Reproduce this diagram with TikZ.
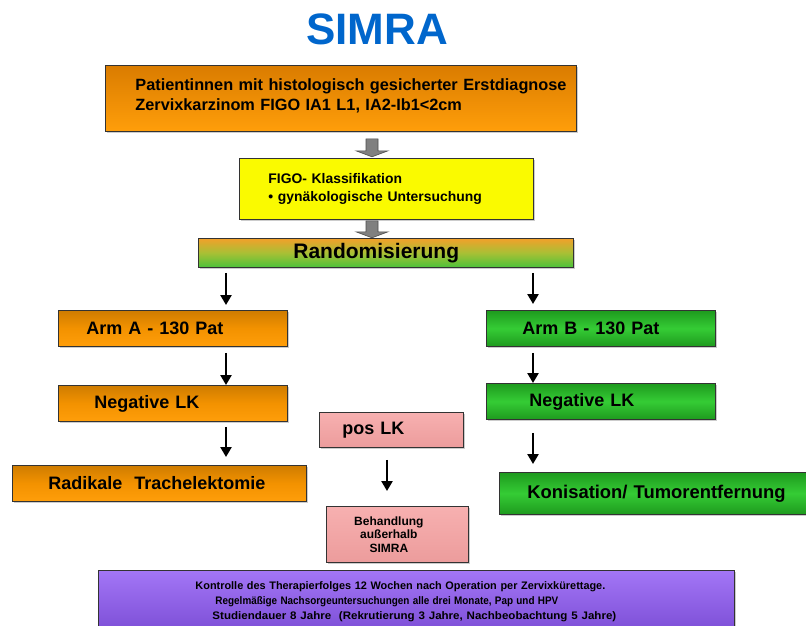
\documentclass[tikz,border=0pt]{standalone}
\usepackage{fontspec}
\usepackage{graphicx}
\setmainfont{Liberation Sans}
\usetikzlibrary{shadows,arrows.meta,calc}
\definecolor{titleblue}{HTML}{0066CC}
\definecolor{orD}{HTML}{DA7C00}
\definecolor{orL}{HTML}{FF9E0A}
\definecolor{orM}{HTML}{F39200}
\definecolor{grD}{HTML}{1E9A1E}
\definecolor{grL}{HTML}{35CC35}
\definecolor{yel}{HTML}{FAFA00}
\definecolor{pkT}{HTML}{F7B0B0}
\definecolor{pkB}{HTML}{EC9C9C}
\definecolor{puT}{HTML}{A376F6}
\definecolor{puB}{HTML}{7C4ED6}
\definecolor{rnT}{HTML}{F2A02A}
\definecolor{rnM}{HTML}{A8C035}
\definecolor{rnB}{HTML}{4CC23A}
\definecolor{gblkfill}{HTML}{808080}
\newcommand{\padr}[1]{\rule{#1}{0pt}}
\begin{document}
\begin{tikzpicture}[x=1pt,y=-1pt,
  bx/.style={draw=black!80, line width=0.8pt, anchor=north west, inner sep=0pt, align=left,
    drop shadow={shadow xshift=2pt, shadow yshift=-2pt, opacity=0.4}},
  orbox/.style={bx, top color=orD, bottom color=orL},
  orsmall/.style={bx, top color=orM!85!black, bottom color=orL, middle color=orM},
  grbox/.style={bx, top color=grD, bottom color=grD, middle color=grL},
  pkbox/.style={bx, top color=pkT, bottom color=pkB},
  big/.style={font=\fontsize{18}{21}\selectfont\bfseries},
  blk/.style={line width=2.5pt, -{Triangle[length=10pt,width=11pt]}},
  gblk/.style={draw=black!70, line width=0.6pt, fill=gblkfill}
]
\useasboundingbox (0,0) rectangle (806,625);
\clip (0,0) rectangle (806,625);

\node[font=\fontsize{44}{44}\selectfont\bfseries, text=titleblue] (title) at (377,29) {SIMRA};

\node[orbox, minimum width=471pt, minimum height=66pt, text width=471pt,
  font=\fontsize{16.3}{20}\selectfont\bfseries] (b1) at (105,65)
  {\hspace*{30pt}Patientinnen mit histologisch gesicherter Erstdiagnose\\\hspace*{30pt}Zervixkarzinom FIGO IA1 L1, IA2-Ib1<2cm\\[-12pt]\mbox{}};

\node[bx, fill=yel, minimum width=294pt, minimum height=61pt, text width=294pt,
  font=\fontsize{13.9}{18}\selectfont\bfseries] (b2) at (239,158)
  {\hspace*{29pt}FIGO- Klassifikation\\\hspace*{29pt}• gynäkologische Untersuchung};

\node[bx, top color=rnT, bottom color=rnB, middle color=rnM, minimum width=375pt, minimum height=29pt,
  text width=375pt, align=left, font=\fontsize{21}{24}\selectfont\bfseries] (rand) at (198,238)
  {\hspace*{95pt}Randomisierung};

\node[orsmall, big, minimum width=229pt, minimum height=36pt, text width=229pt] (armA) at (58,310)
  {\hspace*{28pt}Arm A - 130 Pat};
\node[orsmall, big, minimum width=229pt, minimum height=36pt, text width=229pt] (negA) at (58,385)
  {\hspace*{36pt}Negative LK};
\node[orsmall, big, minimum width=294pt, minimum height=36pt, text width=294pt] (rad) at (12,465)
  {\hspace*{36pt}Radikale\ \ Trachelektomie};

\node[grbox, big, minimum width=229pt, minimum height=36pt, text width=229pt] (armB) at (486,310)
  {\hspace*{36pt}Arm B - 130 Pat};
\node[grbox, big, minimum width=229pt, minimum height=36pt, text width=229pt] (negB) at (486,383)
  {\hspace*{43pt}Negative LK};
\node[grbox, minimum width=320pt, minimum height=42pt, text width=320pt,
  font=\fontsize{18.4}{21}\selectfont\bfseries] (kon) at (499,472)
  {\hspace*{28pt}Konisation/ Tumorentfernung};

\node[pkbox, big, minimum width=144pt, minimum height=35pt, text width=144pt] (pos) at (319,412)
  {\hspace*{23pt}pos LK};
\node[pkbox, minimum width=142pt, minimum height=56pt, text width=142pt, align=center,
  font=\fontsize{12}{13.3}\selectfont\bfseries] (beh) at (326,506)
  {Behandlung\padr{17pt}\\außerhalb\padr{17pt}\\SIMRA\padr{17pt}};

\node[bx, top color=puT, bottom color=puB, minimum width=636pt, minimum height=62pt, text width=636pt,
  align=center, font=\fontsize{10.9}{15}\selectfont\bfseries] (ctrl) at (98,570)
  {Kontrolle des Therapierfolges 12 Wochen nach Operation per Zervixkürettage.\padr{32pt}\\
   \scalebox{0.91}[1]{Regelmäßige Nachsorgeuntersuchungen alle drei Monate, Pap und HPV}\padr{59pt}\\
   \scalebox{1.06}[1]{Studiendauer 8 Jahre\ \ (Rekrutierung 3 Jahre, Nachbeobachtung 5 Jahre)}\padr{4pt}\\[4pt]};

\coordinate (cA) at (226,0);
\coordinate (cB) at (533,0);
\coordinate (cP) at (387,0);
\coordinate (cG) at (372,0);

\draw[gblk] ($(b1.south -| cG)+(-6,7)$) -- ++(12,0) -- ++(0,12) -- ++(10,0) -- ++(-16,6) -- ++(-16,-6) -- ++(10,0) -- cycle;
\draw[gblk] ($(b2.south -| cG)+(-6,1)$) -- ++(12,0) -- ++(0,11) -- ++(10,0) -- ++(-16,6) -- ++(-16,-6) -- ++(10,0) -- cycle;

\draw[blk, shorten <=5pt, shorten >=5pt] (rand.south -| cA) -- (armA.north -| cA);
\draw[blk, shorten <=6pt] (armA.south -| cA) -- (negA.north -| cA);
\draw[blk, shorten <=5pt, shorten >=8pt] (negA.south -| cA) -- (rad.north -| cA);

\draw[blk, shorten <=5pt, shorten >=6pt] (rand.south -| cB) -- (armB.north -| cB);
\draw[blk, shorten <=6pt] (armB.south -| cB) -- (negB.north -| cB);
\draw[blk, shorten <=13pt, shorten >=8pt] (negB.south -| cB) -- (kon.north -| cB);

\draw[blk, shorten <=12pt, shorten >=15pt] (pos.south -| cP) -- (beh.north -| cP);
\end{tikzpicture}
\end{document}
